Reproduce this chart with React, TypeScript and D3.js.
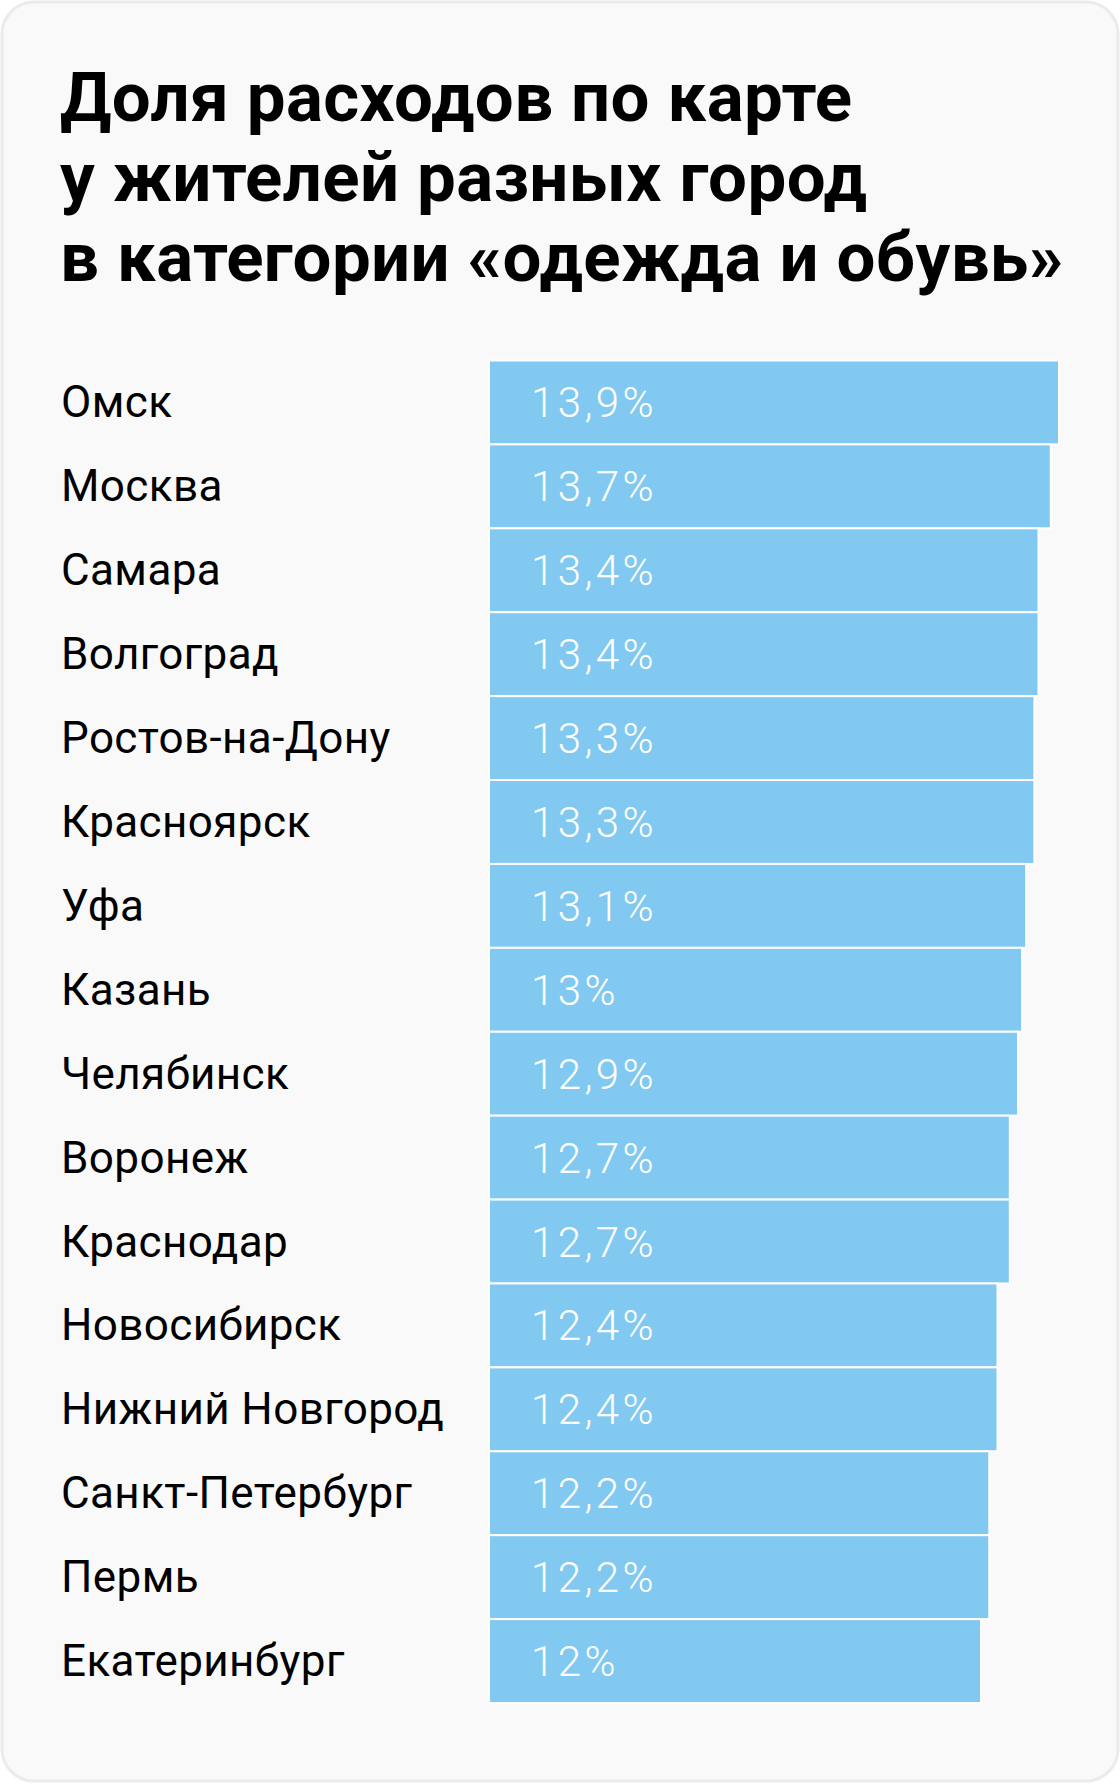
import React from "react";
import * as d3 from "d3";

const titleLines = [
  "Доля расходов по карте",
  "у жителей разных город",
  "в категории «одежда и обувь»",
];
const cities = [
  "Омск",
  "Москва",
  "Самара",
  "Волгоград",
  "Ростов-на-Дону",
  "Красноярск",
  "Уфа",
  "Казань",
  "Челябинск",
  "Воронеж",
  "Краснодар",
  "Новосибирск",
  "Нижний Новгород",
  "Санкт-Петербург",
  "Пермь",
  "Екатеринбург",
];
const values = [13.9, 13.7, 13.4, 13.4, 13.3, 13.3, 13.1, 13, 12.9, 12.7, 12.7, 12.4, 12.4, 12.2, 12.2, 12];
const valueLabels = [
  "13,9%", "13,7%", "13,4%", "13,4%", "13,3%", "13,3%", "13,1%", "13%",
  "12,9%", "12,7%", "12,7%", "12,4%", "12,4%", "12,2%", "12,2%", "12%",
];

const W = 1120;
const H = 1784;

export default function App() {
  const x = d3.scaleLinear().domain([0, 13.9]).range([489, 1059]);
  const y = d3.scaleBand<string>().domain(cities).range([360.5, 1703]).padding(0);
  const font = "Roboto, 'Noto Sans', sans-serif";
  return (
    <div style={{ position: "absolute", left: 0, top: 0 }}>
      <svg width={W} height={H} xmlns="http://www.w3.org/2000/svg" style={{ display: "block" }}>
        <rect x={0} y={0} width={W} height={H} fill="#ffffff" />
        <rect x={2} y={2} width={W - 4} height={H - 5} rx={32} ry={32} fill="#f9f9f9" stroke="#ebebeb" strokeWidth={3} />
        {titleLines.map((t, i) => (
          <text key={i} x={60} y={121 + i * 80} fontFamily={font} fontWeight={700} fontSize={69} letterSpacing={0.4} fill="#000">
            {t}
          </text>
        ))}
        {cities.map((c, i) => {
          const y0 = y(c)!;
          const bh = y.bandwidth();
          return (
            <g key={c}>
              <rect x={x(0)} y={y0} width={x(values[i]) - x(0)} height={bh} fill="#82c9f2" stroke="#ffffff" strokeWidth={2} />
              <text x={61} y={y0 + bh / 2 + 15} fontFamily={font} fontSize={44} letterSpacing={0.4} fill="#000">
                {c}
              </text>
              <text x={x(0) + 42} y={y0 + bh / 2 + 15} fontFamily={font} fontWeight={300} fontSize={42} letterSpacing={3.4} fill="#ffffff">
                {valueLabels[i]}
              </text>
            </g>
          );
        })}
      </svg>
    </div>
  );
}
